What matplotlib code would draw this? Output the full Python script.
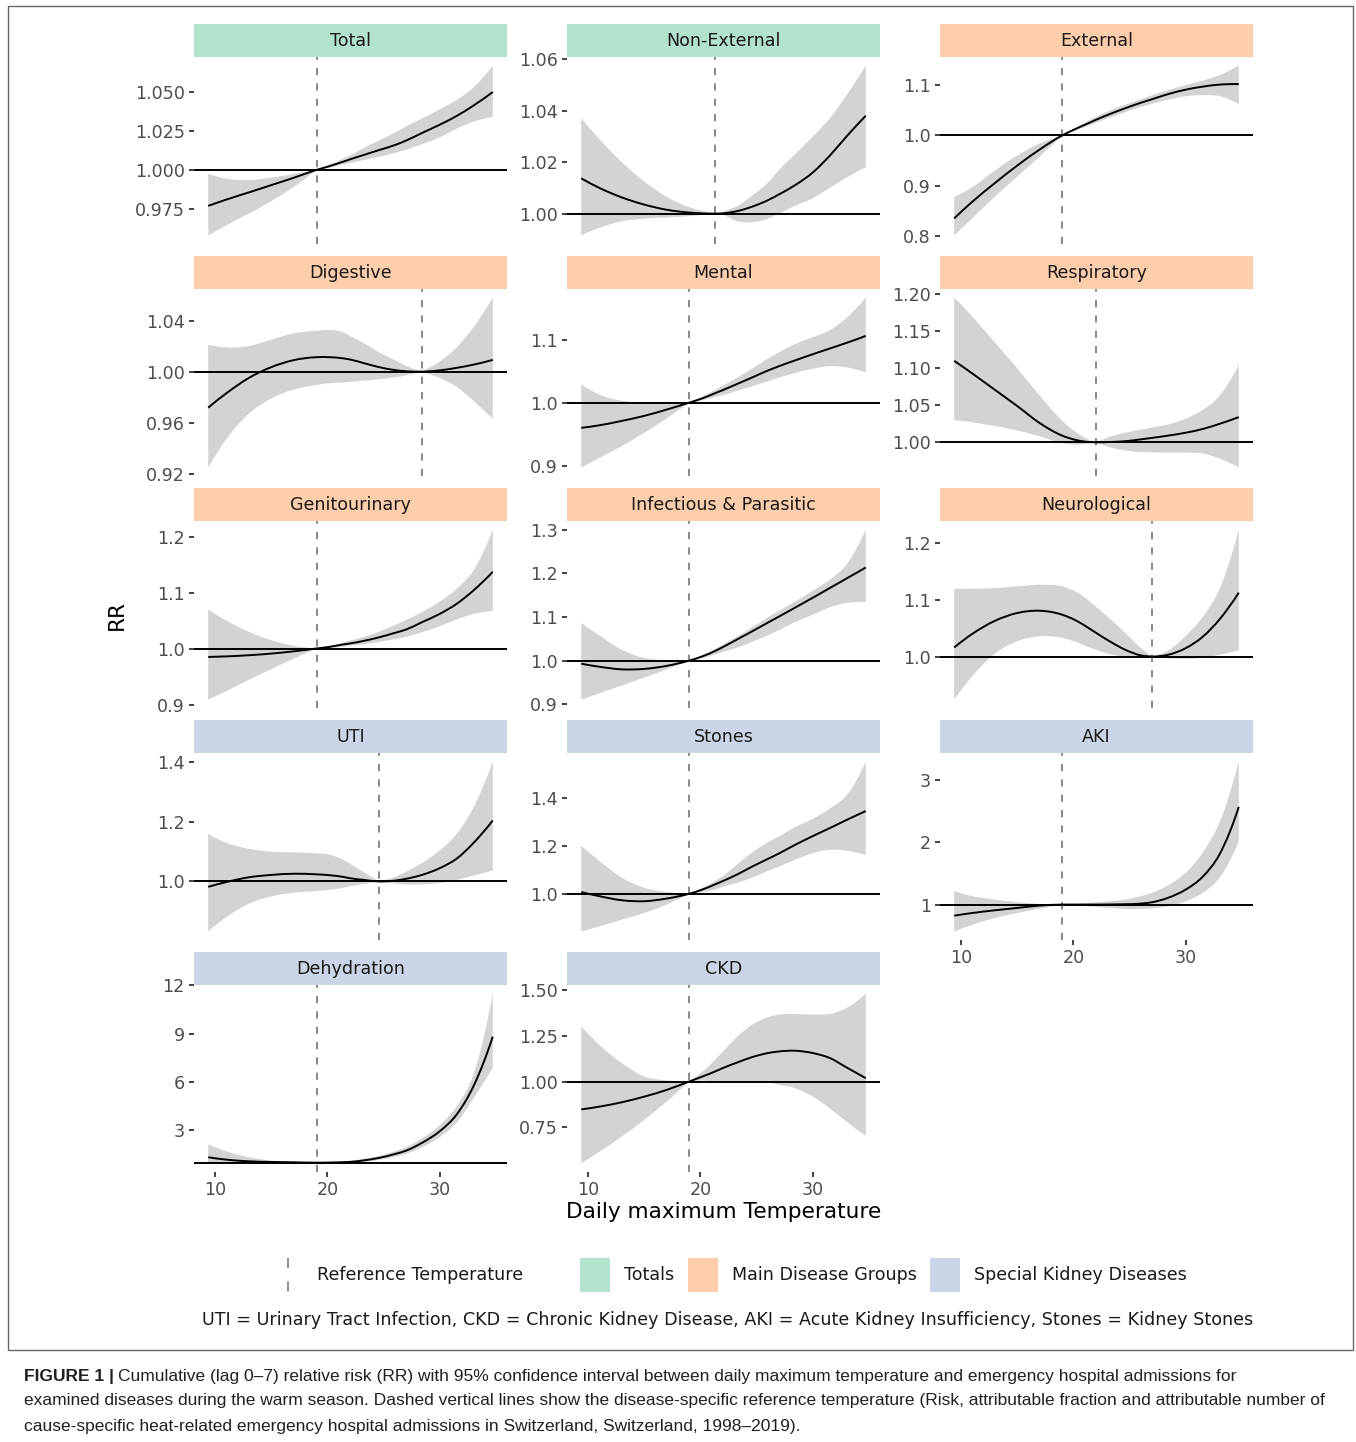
import numpy as np
import matplotlib
matplotlib.use("Agg")
import matplotlib.pyplot as plt
from matplotlib.patches import Rectangle, PathPatch
from matplotlib.lines import Line2D
from matplotlib.path import Path

# ---------------- data ----------------
temps = [9.4, 11, 13, 15, 17, 19, 20.2, 21.3, 22, 23.3, 24.6, 26, 27, 28.4, 30, 31.5, 33, 34.7]

panels = ["Total", "Non-External", "External",
          "Digestive", "Mental", "Respiratory",
          "Genitourinary", "Infectious & Parasitic", "Neurological",
          "UTI", "Stones", "AKI",
          "Dehydration", "CKD"]
groups = ["Totals", "Totals", "Main Disease Groups",
          "Main Disease Groups", "Main Disease Groups", "Main Disease Groups",
          "Main Disease Groups", "Main Disease Groups", "Main Disease Groups",
          "Special Kidney Diseases", "Special Kidney Diseases", "Special Kidney Diseases",
          "Special Kidney Diseases", "Special Kidney Diseases"]
ref_temps = [19.1, 21.3, 19.0, 28.4, 19.0, 22.0, 19.1, 19.0, 27.0, 24.6, 19.0, 19.0, 19.1, 19.0]

ytick_labels = [
    ["0.975", "1.000", "1.025", "1.050"],
    ["1.00", "1.02", "1.04", "1.06"],
    ["0.8", "0.9", "1.0", "1.1"],
    ["0.92", "0.96", "1.00", "1.04"],
    ["0.9", "1.0", "1.1"],
    ["1.00", "1.05", "1.10", "1.15", "1.20"],
    ["0.9", "1.0", "1.1", "1.2"],
    ["0.9", "1.0", "1.1", "1.2", "1.3"],
    ["1.0", "1.1", "1.2"],
    ["1.0", "1.2", "1.4"],
    ["1.0", "1.2", "1.4"],
    ["1", "2", "3"],
    ["3", "6", "9", "12"],
    ["0.75", "1.00", "1.25", "1.50"],
]
xtick_values = [10, 20, 30]

rr_total = [0.977, 0.981, 0.9856, 0.9903, 0.995, 1.0, 1.0025, 1.0051, 1.0068, 1.0098, 1.0128, 1.016, 1.0189, 1.0237, 1.0291, 1.0347, 1.0414, 1.050]
lo_total = [0.958, 0.9645, 0.972, 0.980, 0.989, 1.0, 1.0015, 1.0035, 1.0045, 1.0065, 1.0085, 1.011, 1.013, 1.0165, 1.021, 1.0265, 1.031, 1.034]
hi_total = [0.9975, 0.9945, 0.9935, 0.995, 0.9975, 1.0, 1.0035, 1.007, 1.0092, 1.0145, 1.019, 1.024, 1.028, 1.033, 1.039, 1.045, 1.053, 1.067]

rr_nonext = [1.0137, 1.0100, 1.0063, 1.0035, 1.0015, 1.0004, 1.0001, 1.0, 1.0001, 1.001, 1.0027, 1.0052, 1.0075, 1.011, 1.016, 1.0225, 1.030, 1.038]
lo_nonext = [0.9915, 0.9945, 0.997, 0.998, 0.9985, 0.999, 0.9995, 1.0, 0.9995, 0.997, 0.9967, 0.998, 1.0, 1.003, 1.006, 1.010, 1.014, 1.018]
hi_nonext = [1.037, 1.029, 1.020, 1.0125, 1.0065, 1.0025, 1.001, 1.0, 1.0008, 1.003, 1.007, 1.012, 1.017, 1.023, 1.030, 1.037, 1.046, 1.0575]

rr_external = [0.835, 0.868, 0.905, 0.940, 0.972, 1.0, 1.013, 1.024, 1.031, 1.043, 1.054, 1.065, 1.072, 1.082, 1.091, 1.097, 1.101, 1.102]
lo_external = [0.801, 0.835, 0.878, 0.918, 0.958, 1.0, 1.010, 1.019, 1.025, 1.036, 1.046, 1.057, 1.063, 1.071, 1.078, 1.080, 1.078, 1.062]
hi_external = [0.878, 0.897, 0.930, 0.960, 0.984, 1.0, 1.015, 1.029, 1.037, 1.050, 1.061, 1.072, 1.080, 1.090, 1.100, 1.109, 1.120, 1.139]

rr_digestive = [0.9718, 0.983, 0.995, 1.0035, 1.009, 1.0113, 1.0113, 1.0105, 1.0095, 1.0065, 1.0035, 1.0012, 1.0003, 1.0, 1.001, 1.003, 1.0055, 1.0092]
lo_digestive = [0.925, 0.947, 0.967, 0.979, 0.986, 0.9895, 0.991, 0.9915, 0.992, 0.993, 0.994, 0.9955, 0.997, 1.0, 0.995, 0.988, 0.977, 0.963]
hi_digestive = [1.021, 1.019, 1.020, 1.025, 1.030, 1.032, 1.0325, 1.031, 1.028, 1.022, 1.015, 1.009, 1.0045, 1.0, 1.008, 1.019, 1.035, 1.058]

rr_mental = [0.960, 0.964, 0.971, 0.979, 0.989, 1.0, 1.007, 1.015, 1.020, 1.030, 1.040, 1.051, 1.058, 1.067, 1.077, 1.086, 1.095, 1.106]
lo_mental = [0.897, 0.912, 0.931, 0.952, 0.975, 1.0, 1.004, 1.009, 1.012, 1.019, 1.026, 1.034, 1.040, 1.047, 1.054, 1.058, 1.056, 1.048]
hi_mental = [1.029, 1.013, 1.003, 1.0, 1.0, 1.0, 1.010, 1.020, 1.027, 1.040, 1.054, 1.070, 1.080, 1.093, 1.104, 1.115, 1.135, 1.167]

rr_resp = [1.110, 1.093, 1.071, 1.049, 1.026, 1.009, 1.0032, 1.0005, 1.0, 1.0005, 1.0015, 1.004, 1.006, 1.009, 1.013, 1.018, 1.025, 1.034]
lo_resp = [1.030, 1.027, 1.022, 1.016, 1.008, 0.999, 0.997, 0.998, 1.0, 0.993, 0.989, 0.987, 0.9865, 0.986, 0.986, 0.985, 0.978, 0.966]
hi_resp = [1.1955, 1.170, 1.135, 1.100, 1.063, 1.029, 1.014, 1.004, 1.0, 1.008, 1.013, 1.017, 1.020, 1.024, 1.032, 1.044, 1.063, 1.105]

rr_genito = [0.985, 0.986, 0.988, 0.991, 0.995, 1.0, 1.003, 1.007, 1.009, 1.014, 1.020, 1.028, 1.034, 1.047, 1.062, 1.080, 1.104, 1.137]
lo_genito = [0.909, 0.924, 0.944, 0.963, 0.982, 1.0, 1.001, 1.003, 1.005, 1.008, 1.012, 1.017, 1.021, 1.029, 1.040, 1.052, 1.062, 1.067]
hi_genito = [1.0696, 1.050, 1.030, 1.015, 1.005, 1.0, 1.004, 1.010, 1.014, 1.021, 1.030, 1.042, 1.051, 1.065, 1.084, 1.107, 1.140, 1.2125]

rr_infect = [0.993, 0.986, 0.980, 0.981, 0.988, 1.0, 1.010, 1.022, 1.031, 1.049, 1.067, 1.087, 1.101, 1.121, 1.144, 1.166, 1.188, 1.213]
lo_infect = [0.911, 0.925, 0.943, 0.961, 0.980, 1.0, 1.006, 1.014, 1.020, 1.030, 1.043, 1.058, 1.070, 1.088, 1.105, 1.122, 1.132, 1.134]
hi_infect = [1.086, 1.058, 1.025, 1.006, 1.001, 1.0, 1.013, 1.027, 1.037, 1.056, 1.076, 1.099, 1.114, 1.135, 1.160, 1.185, 1.220, 1.300]

rr_neuro = [1.016, 1.040, 1.063, 1.077, 1.081, 1.074, 1.064, 1.051, 1.042, 1.026, 1.012, 1.002, 1.0, 1.003, 1.015, 1.035, 1.066, 1.113]
lo_neuro = [0.924, 0.965, 1.005, 1.027, 1.036, 1.033, 1.026, 1.017, 1.012, 1.004, 0.999, 0.998, 1.0, 0.997, 0.996, 0.998, 1.003, 1.011]
hi_neuro = [1.120, 1.120, 1.121, 1.124, 1.127, 1.124, 1.115, 1.100, 1.088, 1.066, 1.042, 1.015, 1.0, 1.010, 1.037, 1.070, 1.120, 1.2247]

rr_uti = [0.982, 0.998, 1.014, 1.022, 1.026, 1.024, 1.021, 1.016, 1.011, 1.005, 1.0, 1.003, 1.009, 1.022, 1.045, 1.077, 1.130, 1.205]
lo_uti = [0.832, 0.880, 0.925, 0.950, 0.962, 0.968, 0.972, 0.978, 0.984, 0.992, 1.0, 0.993, 0.990, 0.990, 0.995, 1.005, 1.020, 1.037]
hi_uti = [1.160, 1.130, 1.110, 1.100, 1.098, 1.095, 1.090, 1.075, 1.060, 1.030, 1.0, 1.015, 1.033, 1.062, 1.105, 1.160, 1.250, 1.403]

rr_stones = [1.007, 0.990, 0.973, 0.969, 0.980, 1.0, 1.018, 1.039, 1.053, 1.081, 1.113, 1.145, 1.168, 1.203, 1.240, 1.273, 1.307, 1.344]
lo_stones = [0.843, 0.864, 0.892, 0.920, 0.955, 1.0, 1.007, 1.018, 1.029, 1.046, 1.067, 1.095, 1.113, 1.141, 1.169, 1.183, 1.179, 1.161]
hi_stones = [1.200, 1.137, 1.067, 1.025, 1.007, 1.0, 1.025, 1.053, 1.074, 1.123, 1.172, 1.214, 1.239, 1.277, 1.312, 1.354, 1.410, 1.550]

rr_aki = [0.822, 0.865, 0.908, 0.946, 0.984, 1.0, 1.0, 1.0, 1.0, 1.002, 1.006, 1.016, 1.038, 1.108, 1.243, 1.449, 1.810, 2.568]
lo_aki = [0.568, 0.676, 0.784, 0.865, 0.935, 1.0, 0.989, 0.973, 0.962, 0.946, 0.930, 0.930, 0.940, 0.973, 1.054, 1.189, 1.432, 2.011]
hi_aki = [1.216, 1.135, 1.081, 1.038, 1.011, 1.0, 1.011, 1.027, 1.038, 1.054, 1.081, 1.135, 1.189, 1.308, 1.514, 1.838, 2.324, 3.297]

rr_dehyd = [1.337, 1.19, 1.087, 1.046, 1.025, 1.0, 1.01, 1.03, 1.05, 1.15, 1.30, 1.54, 1.75, 2.23, 2.96, 4.0, 5.77, 8.82]
lo_dehyd = [0.95, 0.96, 0.97, 0.98, 0.99, 1.0, 0.995, 0.995, 1.0, 1.05, 1.17, 1.37, 1.55, 1.96, 2.6, 3.5, 5.0, 6.9]
hi_dehyd = [2.127, 1.71, 1.34, 1.13, 1.04, 1.0, 1.03, 1.08, 1.12, 1.25, 1.42, 1.71, 1.96, 2.5, 3.33, 4.52, 6.49, 11.5]

rr_ckd = [0.847, 0.862, 0.886, 0.917, 0.954, 1.0, 1.028, 1.055, 1.074, 1.105, 1.134, 1.156, 1.165, 1.169, 1.156, 1.129, 1.077, 1.018]
lo_ckd = [0.550, 0.614, 0.697, 0.789, 0.890, 1.0, 1.005, 1.0, 0.998, 0.995, 0.995, 0.995, 0.982, 0.963, 0.917, 0.853, 0.779, 0.702]
hi_ckd = [1.303, 1.202, 1.101, 1.028, 1.006, 1.0, 1.055, 1.119, 1.165, 1.248, 1.312, 1.353, 1.368, 1.371, 1.368, 1.371, 1.404, 1.483]

series = {
    "Total": (rr_total, lo_total, hi_total),
    "Non-External": (rr_nonext, lo_nonext, hi_nonext),
    "External": (rr_external, lo_external, hi_external),
    "Digestive": (rr_digestive, lo_digestive, hi_digestive),
    "Mental": (rr_mental, lo_mental, hi_mental),
    "Respiratory": (rr_resp, lo_resp, hi_resp),
    "Genitourinary": (rr_genito, lo_genito, hi_genito),
    "Infectious & Parasitic": (rr_infect, lo_infect, hi_infect),
    "Neurological": (rr_neuro, lo_neuro, hi_neuro),
    "UTI": (rr_uti, lo_uti, hi_uti),
    "Stones": (rr_stones, lo_stones, hi_stones),
    "AKI": (rr_aki, lo_aki, hi_aki),
    "Dehydration": (rr_dehyd, lo_dehyd, hi_dehyd),
    "CKD": (rr_ckd, lo_ckd, hi_ckd),
}

group_names = ["Totals", "Main Disease Groups", "Special Kidney Diseases"]
group_colors = {"Totals": "#B3E2CD", "Main Disease Groups": "#FDCDAC",
                "Special Kidney Diseases": "#CBD5E8"}
bottom_panels = ["AKI", "Dehydration", "CKD"]

footnote = ("UTI = Urinary Tract Infection, CKD = Chronic Kidney Disease, "
            "AKI = Acute Kidney Insufficiency, Stones = Kidney Stones")
caption_bold = "FIGURE 1 |"
caption_lines = [
    "Cumulative (lag 0\u20137) relative risk (RR) with 95% confidence interval between daily maximum temperature and emergency hospital admissions for",
    "examined diseases during the warm season. Dashed vertical lines show the disease-specific reference temperature (Risk, attributable fraction and attributable number of",
    "cause-specific heat-related emergency hospital admissions in Switzerland, Switzerland, 1998\u20132019).",
]


# ---------------- smooth drawing helpers (Bezier rendering through the read points) ----------------
def _end_slope(xa, ya, at_start):
    x0, x1, x2 = xa
    y0, y1, y2 = ya
    if at_start:
        return (y0 * (2 * x0 - x1 - x2) / ((x0 - x1) * (x0 - x2))
                + y1 * (x0 - x2) / ((x1 - x0) * (x1 - x2))
                + y2 * (x0 - x1) / ((x2 - x0) * (x2 - x1)))
    return (y0 * (x2 - x1) / ((x0 - x1) * (x0 - x2))
            + y1 * (x2 - x0) / ((x1 - x0) * (x1 - x2))
            + y2 * (2 * x2 - x0 - x1) / ((x2 - x0) * (x2 - x1)))


def _tangents(x, y, corners):
    n = len(x)
    h = np.diff(x)
    sec = np.diff(y) / h
    m_in = np.empty(n)
    m_out = np.empty(n)
    m_in[0] = m_out[0] = _end_slope(x[:3], y[:3], True)
    m_in[-1] = m_out[-1] = _end_slope(x[-3:], y[-3:], False)
    for i in range(1, n - 1):
        if i in corners:
            m_in[i] = sec[i - 1]
            m_out[i] = sec[i]
        else:
            m = (h[i - 1] * sec[i] + h[i] * sec[i - 1]) / (h[i - 1] + h[i])
            m_in[i] = m_out[i] = m
    return m_in, m_out


def bezier_segments(x, y, corners=()):
    m_in, m_out = _tangents(x, y, corners)
    verts, codes = [], []
    for i in range(len(x) - 1):
        dx = x[i + 1] - x[i]
        verts += [(x[i] + dx / 3, y[i] + m_out[i] * dx / 3),
                  (x[i + 1] - dx / 3, y[i + 1] - m_in[i + 1] * dx / 3),
                  (x[i + 1], y[i + 1])]
        codes += [Path.CURVE4] * 3
    return verts, codes


def curve_path(x, y):
    v, c = bezier_segments(x, y)
    return Path([(x[0], y[0])] + v, [Path.MOVETO] + c)


def ribbon_path(x, lo, hi):
    corners = set(int(i) for i in np.where(np.isclose(lo, hi))[0])
    vu, cu = bezier_segments(x, hi, corners)
    xr = x[::-1]
    vl, cl = bezier_segments(xr, lo[::-1], set(len(x) - 1 - k for k in corners))
    verts = [(x[0], hi[0])] + vu + [(xr[0], lo[-1])] + vl + [(x[0], hi[0])]
    codes = [Path.MOVETO] + cu + [Path.LINETO] + cl + [Path.CLOSEPOLY]
    return Path(verts, codes)


# ---------------- layout ----------------
W, H = 1356, 1442
DPI = 100
plt.rcParams['font.family'] = ['DejaVu Sans']
fig = plt.figure(figsize=(W / DPI, H / DPI), dpi=DPI)
fig.patch.set_facecolor('white')


def rect(x, y, w, h):
    return [x / W, 1 - (y + h) / H, w / W, h / H]


def fxy(x, y):
    return (x / W, 1 - y / H)


col_x = [194, 567, 940]
row_top = [24, 256, 488, 720, 952]
panel_w = 313
strip_h = 33
panel_h = 187

TICK_FS = 12.6
RIBBON = '#D3D3D3'
VLINE_COL = '#7F7F7F'
DASH = (0, (4, 4.5))

t_arr = np.array(temps, dtype=float)
for i, name in enumerate(panels):
    r, c = divmod(i, 3)
    rr, lo, hi = (np.array(a, dtype=float) for a in series[name])
    # strip
    sax = fig.add_axes(rect(col_x[c], row_top[r], panel_w, strip_h))
    sax.set_facecolor(group_colors[groups[i]])
    sax.set_xticks([]); sax.set_yticks([])
    for s in sax.spines.values():
        s.set_visible(False)
    sax.text(0.5, 0.5, name, ha='center', va='center', fontsize=TICK_FS,
             color='#1A1A1A', transform=sax.transAxes)

    ax = fig.add_axes(rect(col_x[c], row_top[r] + strip_h, panel_w, panel_h))
    ax.add_patch(PathPatch(ribbon_path(t_arr, lo, hi), facecolor=RIBBON,
                           edgecolor='none', lw=0, zorder=1))
    ax.axhline(1.0, color='black', lw=1.4, zorder=2)
    ax.axvline(ref_temps[i], color=VLINE_COL, lw=1.3, ls=DASH, zorder=3)
    ax.add_patch(PathPatch(curve_path(t_arr, rr), facecolor='none',
                           edgecolor='black', lw=1.4, zorder=4))

    xr = t_arr.max() - t_arr.min()
    ax.set_xlim(t_arr.min() - 0.05 * xr, t_arr.max() + 0.05 * xr)
    ymin, ymax = lo.min(), hi.max()
    yr = ymax - ymin
    ax.set_ylim(ymin - 0.05 * yr, ymax + 0.05 * yr)

    for s in ax.spines.values():
        s.set_visible(False)
    yt = ytick_labels[i]
    ax.set_yticks([float(v) for v in yt])
    ax.set_yticklabels(yt)
    ax.tick_params(axis='y', length=3.8, width=1.3, color='#333333',
                   labelsize=TICK_FS, labelcolor='#4D4D4D', pad=2.8)
    if name in bottom_panels:
        ax.set_xticks(xtick_values)
        ax.set_xticklabels([str(v) for v in xtick_values])
        ax.tick_params(axis='x', length=3.8, width=1.3, color='#333333',
                       labelsize=TICK_FS, labelcolor='#4D4D4D', pad=2.8)
    else:
        ax.set_xticks([])
    ax.set_facecolor('white')

# axis titles
fig.text(*fxy(117, 615), "RR", rotation=90, ha='center', va='center',
         fontsize=15.6, color='black')
fig.text(*fxy(724, 1212), "Daily maximum Temperature", ha='center', va='center',
         fontsize=15.6, color='black')

# legend
lx = 288
fig.add_artist(Line2D([lx / W, lx / W], [1 - 1258 / H, 1 - 1292 / H],
                      color=VLINE_COL, lw=1.2, ls=(0, (6, 8))))
fig.text(*fxy(317, 1275), "Reference Temperature", ha='left', va='center',
         fontsize=TICK_FS, color='#1A1A1A')
key_x = [580, 688, 930]
for gname, kx in zip(group_names, key_x):
    fig.add_artist(Rectangle(((kx) / W, 1 - 1292 / H), 30 / W, 34 / H,
                             transform=fig.transFigure,
                             facecolor=group_colors[gname], edgecolor='none'))
    fig.text(*fxy(kx + 44, 1275), gname, ha='left', va='center',
             fontsize=TICK_FS, color='#1A1A1A')

# footnote
fig.text(*fxy(1253, 1320), footnote, ha='right', va='center',
         fontsize=TICK_FS, color='#1A1A1A')

# frame around the chart
fig.add_artist(Rectangle((8 / W, 1 - 1350 / H), (1353 - 8) / W, (1350 - 6) / H,
                         transform=fig.transFigure, facecolor='none',
                         edgecolor='#666666', lw=1.0))

# caption
CAP_FS = 12.5
cap_family = ['Liberation Sans', 'DejaVu Sans']
renderer = fig.canvas.get_renderer()
tb = fig.text(*fxy(24, 1376), caption_bold, ha='left', va='center',
              fontsize=CAP_FS, fontweight='bold', family=cap_family, color='#231F20')
bb = tb.get_window_extent(renderer=renderer)
fig.text((bb.x1 + 4) / W, 1 - 1376 / H, caption_lines[0], ha='left', va='center',
         fontsize=CAP_FS, family=cap_family, color='#231F20')
for k, line in enumerate(caption_lines[1:]):
    fig.text(*fxy(24, 1401 + 25 * k), line, ha='left', va='center',
             fontsize=CAP_FS, family=cap_family, color='#231F20')

fig.savefig("out.png", dpi=DPI, facecolor='white')
